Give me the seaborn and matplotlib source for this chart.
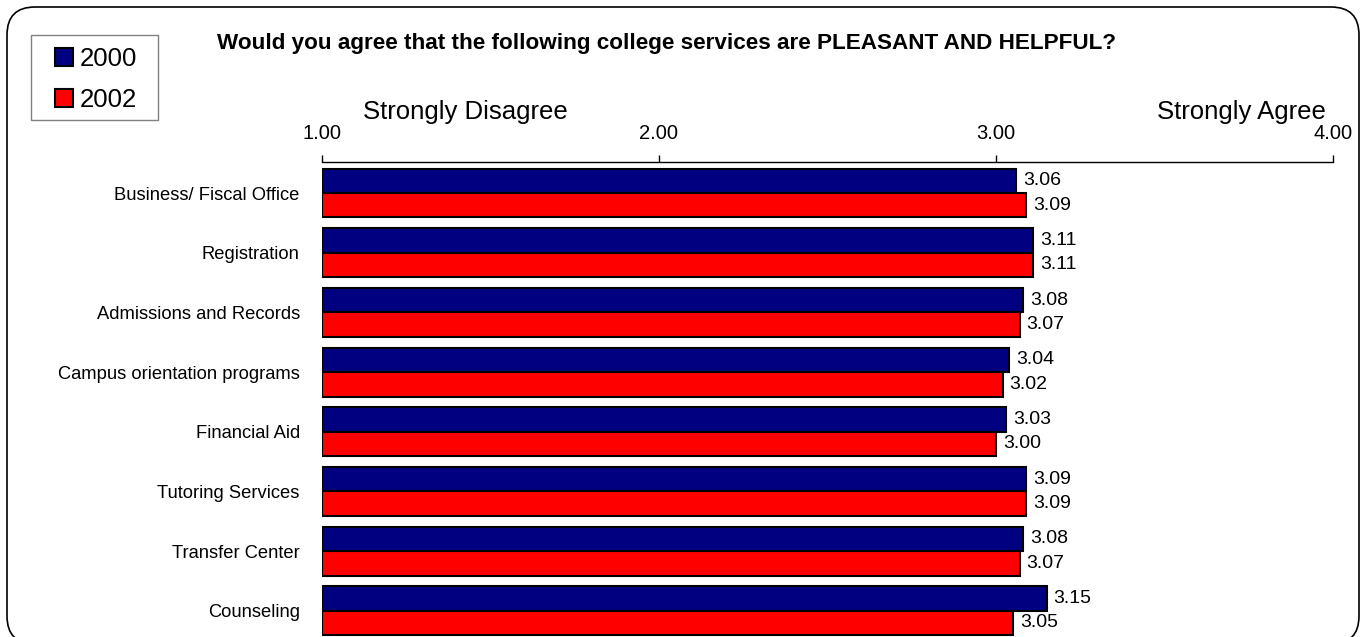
import pandas as pd
import seaborn as sns
import matplotlib.pyplot as plt
from matplotlib.patches import Patch, FancyBboxPatch, Rectangle

# survey means, 1 = strongly disagree .. 4 = strongly agree
services = ['Business/ Fiscal Office', 'Registration', 'Admissions and Records',
            'Campus orientation programs', 'Financial Aid', 'Tutoring Services',
            'Transfer Center', 'Counseling']
years = ['2000', '2002']
scores_2000 = [3.06, 3.11, 3.08, 3.04, 3.03, 3.09, 3.08, 3.15]
scores_2002 = [3.09, 3.11, 3.07, 3.02, 3.00, 3.09, 3.07, 3.05]
ticks = [1, 2, 3, 4]
tick_labels = ['1.00', '2.00', '3.00', '4.00']

colors = ['#000080', '#FF0000']

df = pd.DataFrame({
    'service': services * 2,
    'year': [years[0]] * len(services) + [years[1]] * len(services),
    'score': scores_2000 + scores_2002,
})

sns.set_style('white')
plt.rcParams['font.family'] = ['Liberation Sans', 'DejaVu Sans']
plt.rcParams['text.color'] = 'black'
plt.rcParams['xtick.color'] = 'black'
plt.rcParams['ytick.color'] = 'black'

W, H = 1364, 637
fig = plt.figure(figsize=(W / 100, H / 100), dpi=100)

# rounded frame around the whole chart, in inches (bottom edge runs off the image)
frame = FancyBboxPatch((0.07, -0.07), 13.52, 6.37,
                       boxstyle='round,pad=0,rounding_size=0.28',
                       transform=fig.dpi_scale_trans, facecolor='none',
                       edgecolor='black', linewidth=1.2, zorder=-5)
fig.patches.append(frame)

ax = fig.add_axes([322 / W, 0, (1333 - 322) / W, (637 - 162) / H])
ax.set_facecolor('none')

sns.barplot(data=df, y='service', x='score', hue='year', orient='h',
            palette=colors, saturation=1, width=0.82, edgecolor='black',
            linewidth=1.5, errorbar=None, legend=False, ax=ax)

# bars start at the scale minimum (1.00), not at zero
for cont in ax.containers:
    for p in cont:
        w = p.get_width()
        p.set_x(1)
        p.set_width(w - 1)
    ax.bar_label(cont, fmt='%.2f', padding=5, fontsize=14)

ax.set_xlim(1, 4)
ax.set_ylim(7.44, -0.52)
ax.set_xlabel('')
ax.set_ylabel('')
ax.xaxis.tick_top()
ax.set_xticks(ticks)
ax.set_xticklabels(tick_labels, fontsize=14.5)
ax.tick_params(axis='x', direction='out', length=5, width=1, pad=9)
ax.tick_params(axis='y', length=0, pad=16, labelsize=13.2)
for s in ['left', 'right', 'bottom']:
    ax.spines[s].set_visible(False)
ax.spines['top'].set_color('black')
ax.spines['top'].set_linewidth(1)

fig.text(217 / W, 1 - 49 / H,
         'Would you agree that the following college services are PLEASANT AND HELPFUL?',
         fontsize=16.2, fontweight='bold', ha='left', va='baseline')
fig.text(465 / W, 1 - 119 / H, 'Strongly Disagree', fontsize=18.5,
         ha='center', va='baseline')
fig.text(1241 / W, 1 - 119 / H, 'Strongly Agree', fontsize=18.5,
         ha='center', va='baseline')

# legend box drawn separately so the padding can match
fig.patches.append(Rectangle((31 / W, 1 - 120 / H), 127 / W, 85 / H,
                             transform=fig.transFigure, facecolor='white',
                             edgecolor='#808080', linewidth=1, zorder=-4))
handles = [Patch(facecolor=c, edgecolor='black', linewidth=1.5) for c in colors]
leg = fig.legend(handles, years, loc='upper left',
                 bbox_to_anchor=(55 / W, 1 - 47 / H), fontsize=18.5,
                 frameon=False, borderaxespad=0, borderpad=0,
                 handlelength=0.7, handleheight=0.7, handletextpad=0.25,
                 labelspacing=0.65)

fig.savefig('out.png', dpi=100)
